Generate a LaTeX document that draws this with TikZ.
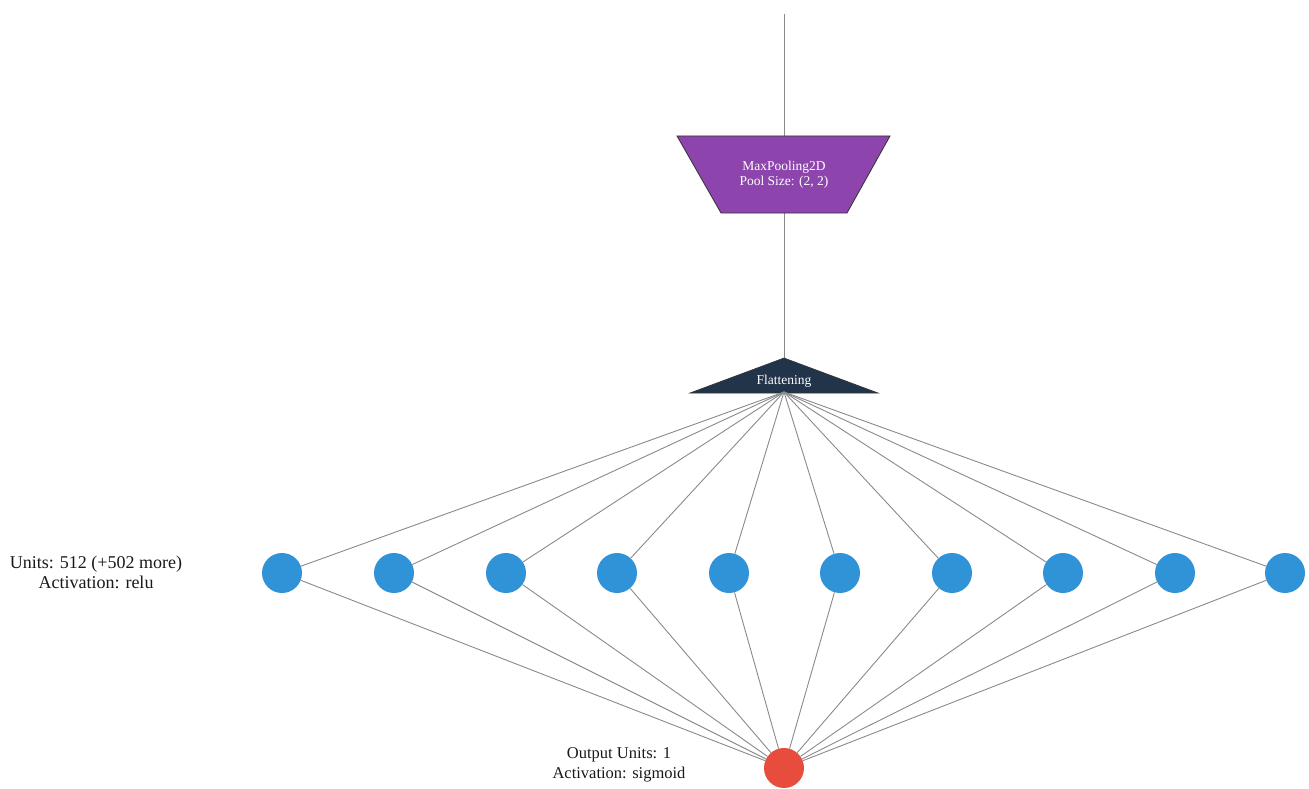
\documentclass[tikz,border=0pt]{standalone}
\usepackage{fontspec}
\setmainfont{Liberation Serif}
\definecolor{poolc}{HTML}{8E44AD}
\definecolor{flatc}{HTML}{22344A}
\definecolor{hidc}{HTML}{3093D8}
\definecolor{outc}{HTML}{E74C3C}
\definecolor{edgec}{HTML}{8A8A8A}
\begin{document}
\begin{tikzpicture}[x=1pt,y=-1pt,
  edge/.style={draw=edgec,line width=0.9pt},
  hid/.style={circle,fill=hidc,minimum size=40pt,inner sep=0pt},
  outn/.style={circle,fill=outc,minimum size=40pt,inner sep=0pt},
  lbl/.style={align=center,font=\fontsize{18}{20}\selectfont,text=black!90}]
\useasboundingbox (0,0) rectangle (1309,789);
\fill[white] (0,0) rectangle (1309,789);
% top input line
\coordinate (top) at (784,14);
\coordinate (poolt) at (784,136);
\coordinate (poolb) at (784,213);
\coordinate (flata) at (784,358);
\coordinate (flatb) at (784,392);
\draw[edge] (top) -- (poolt);
\draw[edge] (poolb) -- (flata);
% MaxPooling trapezoid
\filldraw[fill=poolc,draw=black!80,line width=0.8pt] (677,136) -- (890,136) -- (847,213) -- (721,213) -- cycle;
\node[text=white,align=center,font=\fontsize{13.5}{15.5}\selectfont] (pool) at (784,175) {MaxPooling2D\\Pool Size: (2, 2)};
% Flattening triangle
\filldraw[fill=flatc,draw=black!80,line width=0.6pt] (784,358) -- (878,393) -- (690,393) -- cycle;
\node[text=white,font=\fontsize{13.5}{15}\selectfont] (flat) at (784,381) {Flattening};
% hidden nodes
\foreach \i/\x in {1/282,2/394,3/506,4/617,5/729,6/840,7/952,8/1063,9/1175,10/1285}{
  \node[hid] (h\i) at (\x,573) {};
}
\node[outn] (o) at (784,768) {};
\foreach \i in {1,...,10}{
  \draw[edge] (flatb) -- (h\i);
  \draw[edge] (h\i) -- (o);
}
\node[lbl] (hlbl) at (96,572) {Units: 512 (+502 more)\\Activation: relu};
\node[lbl,font=\fontsize{16.5}{20}\selectfont] (olbl) at (619,765) {Output Units: 1\\Activation: sigmoid};
\end{tikzpicture}
\end{document}
